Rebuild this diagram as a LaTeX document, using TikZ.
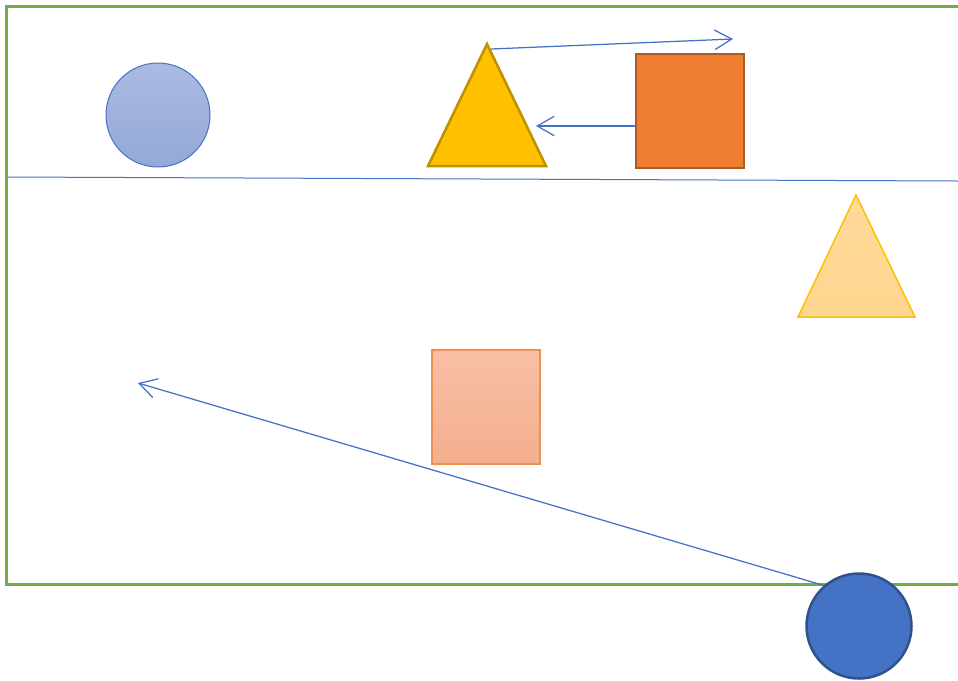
\documentclass[tikz,border=0pt]{standalone}
\usetikzlibrary{arrows.meta}
\definecolor{frameGreen}{HTML}{70AD47}
\definecolor{lineBlue}{HTML}{4472C4}
\definecolor{darkBlue}{HTML}{2F528F}
\definecolor{goldFill}{HTML}{FFC000}
\definecolor{goldEdge}{HTML}{BF9000}
\definecolor{orangeFill}{HTML}{ED7D31}
\definecolor{orangeEdge}{HTML}{AE5A21}

\begin{document}
\begin{tikzpicture}[x=0.2mm,y=-0.2mm,
    link/.style={lineBlue, line width=0.25mm, -{Straight Barb[length=3.4mm,width=3.9mm]}},
    paleDot/.style={circle, draw=lineBlue, line width=0.2mm, minimum size=20.8mm, inner sep=0pt,
        top color={rgb,255:red,171;green,186;blue,225}, bottom color={rgb,255:red,148;green,169;blue,215}},
    solidDot/.style={circle, draw=darkBlue, fill=lineBlue, line width=0.5mm, minimum size=21mm, inner sep=0pt},
    box/.style={rectangle, minimum width=21.6mm, minimum height=22.8mm, inner sep=0pt}]
        \useasboundingbox (0,0) rectangle (958,680);
        \clip (0,0) rectangle (958,680);

        % frame and divider
        \draw[frameGreen, line width=0.6mm] (970,6) -- (6,6) -- (6,584) -- (970,584);
        \draw[lineBlue, line width=0.2mm] (8,177) -- (958,181);

        % upper row
        \node[paleDot] (paleCircle) at (158,115) {};
        \filldraw[fill=goldFill, draw=goldEdge, line width=0.5mm] (428,166) -- (487,44) -- (546,166) -- cycle;
        \node[box, fill=orangeFill, draw=orangeEdge, line width=0.5mm] (orangeBox) at (690,111) {};

        % lower shapes
        \filldraw[top color={rgb,255:red,255;green,218;blue,155}, bottom color={rgb,255:red,255;green,214;blue,143},
            draw=goldFill, line width=0.3mm] (798,317) -- (856,195) -- (915,317) -- cycle;
        \node[box, top color={rgb,255:red,248;green,190;blue,164}, bottom color={rgb,255:red,244;green,175;blue,142},
            draw=orangeFill!85, line width=0.3mm] (paleBox) at (486,407) {};
        \node[solidDot] (blueCircle) at (859,626) {};

        % arrows
        \coordinate (apexGold) at (491,49);
        \coordinate (tipRight) at (733,39);
        \coordinate (tipLeft) at (536,126);
        \coordinate (tipFar) at (138,383);
        \draw[link] (apexGold) -- (tipRight);
        \draw[link] (orangeBox.west |- tipLeft) -- (tipLeft);
        \draw[link] (blueCircle.131) -- (tipFar);
\end{tikzpicture}
\end{document}
